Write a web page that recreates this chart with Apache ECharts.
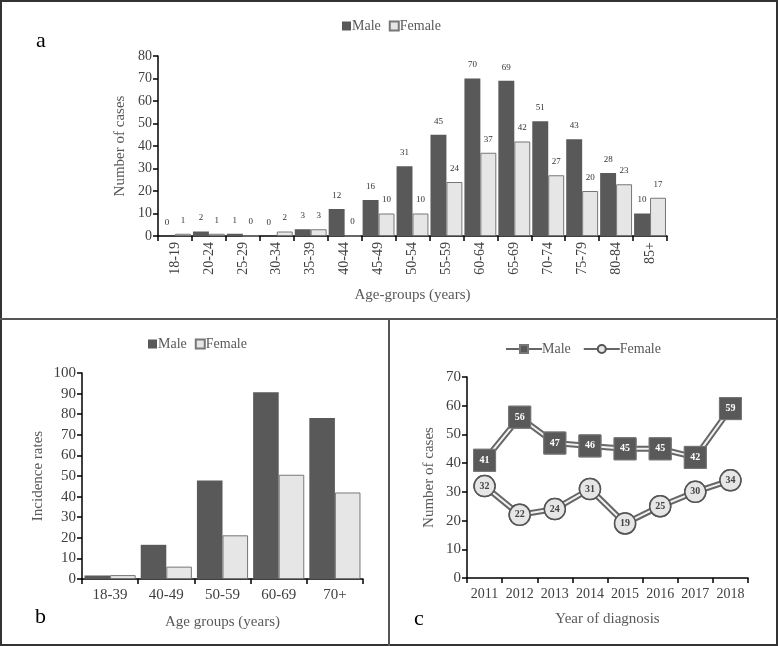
<!DOCTYPE html>
<html>
<head>
<meta charset="utf-8">
<script src="https://cdn.jsdelivr.net/npm/echarts@6/dist/echarts.min.js"></script>
<style>
  html, body { margin: 0; padding: 0; background: #fff; }
  #chart { width: 778px; height: 646px; }
</style>
</head>
<body>
<div id="chart"></div>
<script>
// panel a: cases by age group
const ageGroupsA = ["18-19", "20-24", "25-29", "30-34", "35-39", "40-44", "45-49", "50-54",
  "55-59", "60-64", "65-69", "70-74", "75-79", "80-84", "85+"];
const maleA = [0, 2, 1, 0, 3, 12, 16, 31, 45, 70, 69, 51, 43, 28, 10];
const femaleA = [1, 1, 0, 2, 3, 0, 10, 10, 24, 37, 42, 27, 20, 23, 17];

// panel b: incidence rates
const ageGroupsB = ["18-39", "40-49", "50-59", "60-69", "70+"];
const maleB = [1.7, 16.6, 47.8, 90.7, 78.1];
const femaleB = [1.9, 6.0, 21.2, 50.6, 42.0];

// panel c: cases by year
const years = ["2011", "2012", "2013", "2014", "2015", "2016", "2017", "2018"];
const maleC = [41, 56, 47, 46, 45, 45, 42, 59];
const femaleC = [32, 22, 24, 31, 19, 25, 30, 34];

const FONT = "Liberation Serif";
const DARK = "#595959";
const LIGHT = "#e6e6e6";
const TXT = "#404040";

const chart = echarts.init(document.getElementById("chart"));

function yAxisCfg(idx, max, name, gap) {
  return {
    gridIndex: idx, type: "value", min: 0, max: max, interval: 10,
    name: name, nameLocation: "middle", nameGap: gap,
    nameTextStyle: { fontFamily: FONT, fontSize: 15, color: "#595959" },
    axisLine: { show: true, lineStyle: { color: "#000", width: 1.5 } },
    axisTick: { show: true, length: 5, lineStyle: { color: "#000", width: 1.5 } },
    axisLabel: { fontFamily: FONT, fontSize: idx === 0 ? 14 : 15, color: TXT, margin: 6 },
    splitLine: { show: false }
  };
}

function xAxisCfg(idx, data, name, gap, extra) {
  return Object.assign({
    gridIndex: idx, type: "category", data: data,
    name: name, nameLocation: "middle", nameGap: gap,
    nameTextStyle: { fontFamily: FONT, fontSize: 15, color: "#595959" },
    axisLine: { show: true, lineStyle: { color: "#000", width: 1.5 } },
    axisTick: { show: true, length: 5, lineStyle: { color: "#000", width: 1.5 } },
    axisLabel: { fontFamily: FONT, fontSize: 14, color: TXT, interval: 0 }
  }, extra || {});
}

const legendFmt = n => n.split("_")[1];

const option = {
  animation: false,
  textStyle: { fontFamily: FONT },
  legend: [
    {
      data: ["a_Male", "a_Female"], left: 342, top: 19, padding: 0, itemGap: 8, icon: "rect",
      itemWidth: 9, itemHeight: 9, formatter: legendFmt,
      textStyle: { fontFamily: FONT, fontSize: 14, color: "#595959", padding: [0, 0, 0, -4] }
    },
    {
      data: ["b_Male", "b_Female"], left: 148, top: 337, padding: 0, itemGap: 8, icon: "rect",
      itemWidth: 9, itemHeight: 9, formatter: legendFmt,
      textStyle: { fontFamily: FONT, fontSize: 14, color: "#595959", padding: [0, 0, 0, -4] }
    },
    {
      data: ["c_Male", "c_Female"], left: 505, top: 342, padding: 0, itemGap: 12,
      itemWidth: 36, itemHeight: 10, formatter: legendFmt,
      textStyle: { fontFamily: FONT, fontSize: 14, color: "#595959", padding: [0, 0, 0, -5] }
    }
  ],
  grid: [
    { left: 158, top: 56, width: 509, height: 180 },
    { left: 82, top: 373, width: 281, height: 206 },
    { left: 467, top: 377, width: 281, height: 201 }
  ],
  xAxis: [
    xAxisCfg(0, ageGroupsA, "Age-groups (years)", 52, {
      axisLabel: { fontFamily: FONT, fontSize: 14, color: TXT, interval: 0, rotate: 90, margin: 6 }
    }),
    xAxisCfg(1, ageGroupsB, "Age groups (years)", 36, {
      axisLabel: { fontFamily: FONT, fontSize: 15, color: TXT, interval: 0, margin: 9 }
    }),
    xAxisCfg(2, years, "Year of diagnosis", 34, {
      axisLabel: { fontFamily: FONT, fontSize: 14, color: TXT, interval: 0, margin: 9 }
    })
  ],
  yAxis: [
    yAxisCfg(0, 80, "Number of cases", 30),
    yAxisCfg(1, 100, "Incidence rates", 36),
    yAxisCfg(2, 70, "Number of cases", 30)
  ],
  graphic: [
    { type: "rect", shape: { x: 1, y: 1, width: 776, height: 644 },
      style: { fill: "none", stroke: "#333", lineWidth: 2 } },
    { type: "line", shape: { x1: 0, y1: 319, x2: 778, y2: 319 },
      style: { stroke: "#555", lineWidth: 2 } },
    { type: "line", shape: { x1: 389, y1: 319, x2: 389, y2: 646 },
      style: { stroke: "#555", lineWidth: 2 } },
    { type: "text", left: 36, top: 30, style: { text: "a", font: "22px " + FONT, fill: "#000" } },
    { type: "text", left: 35, top: 606, style: { text: "b", font: "22px " + FONT, fill: "#000" } },
    { type: "text", left: 414, top: 608, style: { text: "c", font: "22px " + FONT, fill: "#000" } }
  ],
  series: [
    {
      name: "a_Male", type: "bar", xAxisIndex: 0, yAxisIndex: 0, data: maleA,
      barGap: "0%", barCategoryGap: "6%",
      itemStyle: { color: DARK },
      label: { show: true, position: "top", distance: 9, fontFamily: FONT, fontSize: 9, color: "#333" }
    },
    {
      name: "a_Female", type: "bar", xAxisIndex: 0, yAxisIndex: 0, data: femaleA,
      itemStyle: { color: LIGHT, borderColor: "#777", borderWidth: 1 },
      label: { show: true, position: "top", distance: 9, fontFamily: FONT, fontSize: 9, color: "#333" }
    },
    {
      name: "b_Male", type: "bar", xAxisIndex: 1, yAxisIndex: 1, data: maleB,
      barGap: "0%", barCategoryGap: "9%",
      itemStyle: { color: DARK }
    },
    {
      name: "b_Female", type: "bar", xAxisIndex: 1, yAxisIndex: 1, data: femaleB,
      itemStyle: { color: LIGHT, borderColor: "#777", borderWidth: 1 }
    },
    // panel c: outer grey line (also gives legend icon)
    {
      name: "c_Male", type: "line", xAxisIndex: 2, yAxisIndex: 2, data: maleC, z: 2,
      symbol: "rect", symbolSize: 22,
      lineStyle: { color: "#666", width: 6 },
      itemStyle: { color: DARK, borderColor: "#777", borderWidth: 1 }
    },
    {
      name: "c_Female", type: "line", xAxisIndex: 2, yAxisIndex: 2, data: femaleC, z: 2,
      symbol: "circle", symbolSize: 21,
      lineStyle: { color: "#666", width: 6 },
      itemStyle: { color: LIGHT, borderColor: "#555", borderWidth: 1.5 }
    },
    // inner light stroke for the double-line look
    {
      name: "c_MaleInner", type: "line", xAxisIndex: 2, yAxisIndex: 2, data: maleC, z: 3,
      symbol: "none", silent: true, lineStyle: { color: "#f2f2f2", width: 2 }
    },
    {
      name: "c_FemaleInner", type: "line", xAxisIndex: 2, yAxisIndex: 2, data: femaleC, z: 3,
      symbol: "none", silent: true, lineStyle: { color: "#f2f2f2", width: 2 }
    },
    // markers with value labels on top
    {
      name: "c_MalePts", type: "scatter", xAxisIndex: 2, yAxisIndex: 2, data: maleC, z: 4,
      symbol: "rect", symbolSize: 22,
      itemStyle: { color: DARK, borderColor: "#777", borderWidth: 1, opacity: 1 },
      label: { show: true, position: "inside", fontFamily: FONT, fontSize: 10, fontWeight: "bold", color: "#fff" }
    },
    {
      name: "c_FemalePts", type: "scatter", xAxisIndex: 2, yAxisIndex: 2, data: femaleC, z: 4,
      symbol: "circle", symbolSize: 21,
      itemStyle: { color: LIGHT, borderColor: "#555", borderWidth: 1.5, opacity: 1 },
      label: { show: true, position: "inside", fontFamily: FONT, fontSize: 10, fontWeight: "bold", color: "#444" }
    }
  ]
};

chart.setOption(option);
</script>
</body>
</html>
